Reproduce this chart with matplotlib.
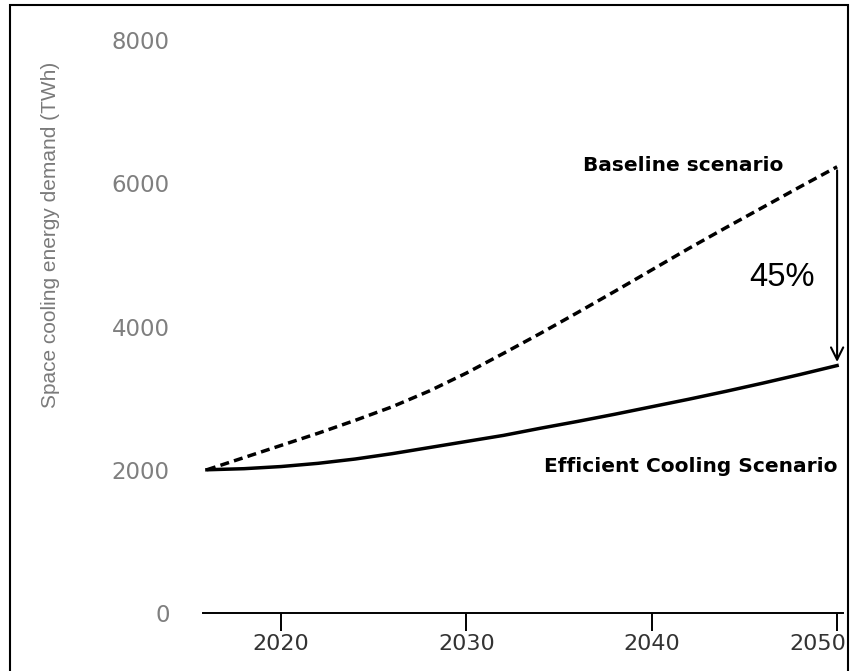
import matplotlib.pyplot as plt
from matplotlib.patches import Rectangle
from matplotlib.transforms import ScaledTranslation

# data (TWh)
years = [2016, 2018, 2020, 2022, 2024, 2026, 2028, 2030, 2032,
         2034, 2036, 2038, 2040, 2042, 2044, 2046, 2048, 2050]
baseline = [2000, 2170, 2340, 2510, 2690, 2880, 3100, 3350, 3625,
            3905, 4195, 4490, 4790, 5090, 5380, 5665, 5950, 6230]
efficient = [2000, 2015, 2045, 2090, 2150, 2225, 2310, 2395, 2480,
             2580, 2675, 2775, 2880, 2985, 3095, 3210, 3330, 3455]
xticks = [2020, 2030, 2040, 2050]
yticks = [0, 2000, 4000, 6000, 8000]

fig = plt.figure(figsize=(8.57, 6.71), dpi=100)
ax = fig.add_axes([0.2369, 0.0864, 0.7468, 0.854])

ax.plot(years, baseline, color='black', lw=2.5, ls=(0, (2.6, 1.5)))
ax.plot(years, efficient, color='black', lw=2.5)

ax.set_xlim(2015.79, 2050.32)
ax.set_ylim(0, 8000)
ax.set_xticks(xticks)
ax.set_yticks(yticks)
ax.tick_params(axis='x', direction='out', length=13, width=1.4, pad=2,
               labelsize=16, labelcolor='#333333')
ax.tick_params(axis='y', length=0, pad=24, labelsize=16.5, labelcolor='#7f7f7f')
# last year label sits a little to the left, inside the frame
lab = ax.get_xticklabels()[-1]
lab.set_transform(lab.get_transform() + ScaledTranslation(-19 / 100, 0, fig.dpi_scale_trans))

for s in ['top', 'right', 'left']:
    ax.spines[s].set_visible(False)
ax.spines['bottom'].set_linewidth(1.4)

ax.set_ylabel('Space cooling energy demand (TWh)', fontsize=15,
              family='Liberation Sans', color='#7a7a7a')
ax.yaxis.set_label_coords(-0.224, 0.66)

# labels
ax.text(2047.1, baseline[-1] + 20, 'Baseline scenario', ha='right', va='center',
        fontsize=14.5, fontweight='bold', family='DejaVu Sans')
ax.text(2050, 2040, 'Efficient Cooling Scenario', ha='right', va='center',
        fontsize=14.5, fontweight='bold', family='DejaVu Sans')
ax.text(2048.8, 4680, '45%', ha='right', va='center', fontsize=23.5,
        family='Liberation Sans')

ax.annotate('', xy=(years[-1], efficient[-1] + 50), xytext=(years[-1], baseline[-1] - 50),
            arrowprops=dict(arrowstyle='->', color='black', lw=1.5,
                            mutation_scale=22, shrinkA=0, shrinkB=0))

# black frame around the picture
fig.patches.append(Rectangle((10 / 857, -0.05), 838 / 857, 1.05 - 5 / 671,
                             transform=fig.transFigure, fill=False,
                             edgecolor='black', lw=1.5))

fig.savefig('out.png', dpi=100)
